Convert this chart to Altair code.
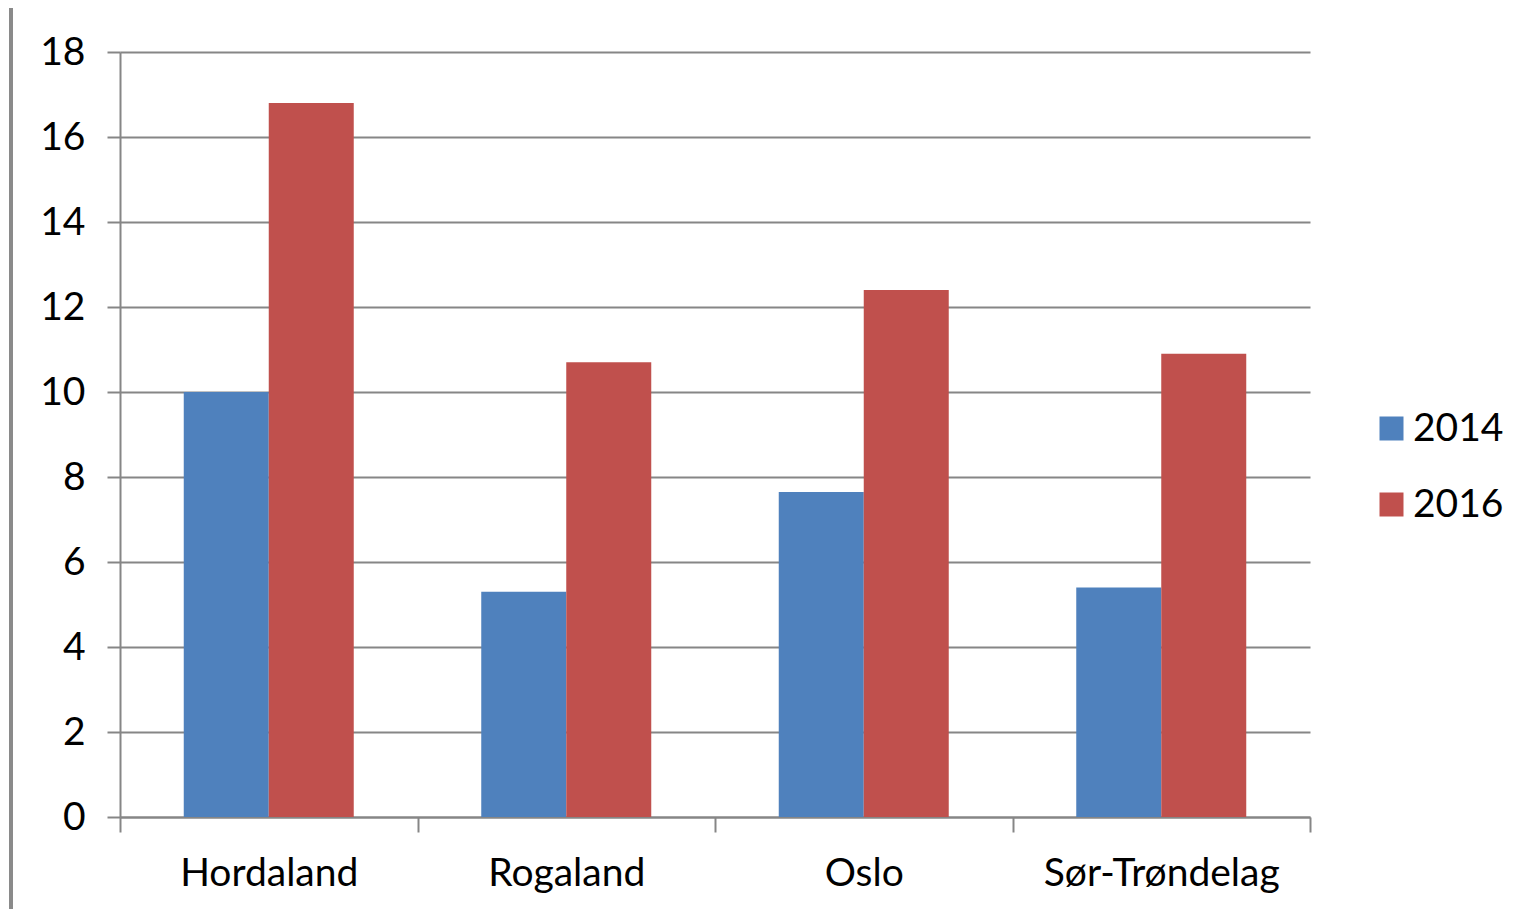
import altair as alt
import pandas as pd

regions = ["Hordaland", "Rogaland", "Oslo", "Sør-Trøndelag"]
years = ["2014", "2016"]
values_2014 = [10.0, 5.3, 7.65, 5.4]
values_2016 = [16.8, 10.7, 12.4, 10.9]
colors = ["#4F81BD", "#C0504D"]
y_ticks = [0, 2, 4, 6, 8, 10, 12, 14, 16, 18]

rows = []
for r, a, b in zip(regions, values_2014, values_2016):
    rows.append({"region": r, "year": "2014", "value": a})
    rows.append({"region": r, "year": "2016", "value": b})
df = pd.DataFrame(rows)

FONT = "Lato"
FS = 39

bars = alt.Chart(df).mark_bar(stroke=None).encode(
    x=alt.X("region:N", sort=regions, title=None,
            scale=alt.Scale(paddingInner=0, paddingOuter=0),
            axis=alt.Axis(labelAngle=0, labelFont=FONT, labelFontSize=FS,
                          labelColor="#000000", tickBand="extent",
                          labelLimit=0,
                          tickSize=15, tickColor="#868686", tickWidth=2,
                          domainColor="#868686", domainWidth=2,
                          labelPadding=22, grid=False)),
    xOffset=alt.XOffset("year:N", sort=years,
                        scale=alt.Scale(paddingInner=0, paddingOuter=0.75)),
    y=alt.Y("value:Q", title=None,
            scale=alt.Scale(domain=[0, 18], nice=False),
            axis=alt.Axis(values=y_ticks, labelFont=FONT, labelFontSize=FS,
                          labelColor="#000000", tickSize=13,
                          tickColor="#868686", tickWidth=2,
                          domainColor="#868686", domainWidth=2,
                          gridColor="#868686", gridWidth=2,
                          labelPadding=22)),
    color=alt.Color("year:N", sort=years,
                    scale=alt.Scale(domain=years, range=colors),
                    legend=alt.Legend(title=None, orient="none",
                                      legendX=1252, legendY=357,
                                      symbolType="square", symbolSize=576,
                                      symbolStrokeWidth=0,
                                      labelFont=FONT, labelFontSize=FS,
                                      labelColor="#000000", labelOffset=2,
                                      rowPadding=36)),
)

frame = alt.Chart(pd.DataFrame({"k": [0]})).mark_rect(color="#8a8a8a").encode(
    x=alt.value(-111), x2=alt.value(-107),
    y=alt.value(-44), y2=alt.value(857),
)

chart = alt.layer(bars, frame).properties(
    width=1190, height=765,
    padding={"left": 112, "top": 44, "right": 215, "bottom": 92},
    autosize=alt.AutoSizeParams(type="none"),
    background="#ffffff",
).configure_view(stroke=None)

chart.save("out.html", embed_options={"renderer": "svg", "actions": False})
